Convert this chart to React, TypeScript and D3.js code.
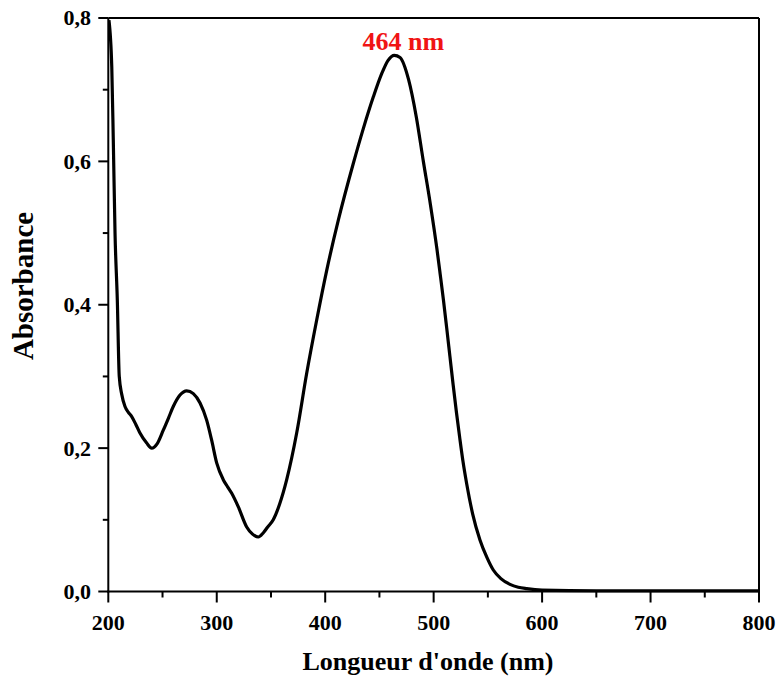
import React from "react";
import * as d3 from "d3";

// UV-Vis absorption spectrum
const wavelengths = [
  200.6, 203.2, 204.6, 206.2, 208.3, 210.1, 212.4, 215.4, 218.5, 221.6, 225.4, 229.2, 235.4, 240,
  245, 250.7, 255.5, 259.9, 266.1, 272.3, 278.4, 284.6, 290.7, 295.3, 300, 306, 310, 313.8, 319.9,
  327.6, 333, 338.3, 343, 347, 352.1, 358, 364.5, 373.7, 382.9, 392.2, 401.4, 412.1, 425.9, 435,
  444.4, 452, 458, 463.7, 469, 476.9, 484, 490.5, 497, 503, 506, 509, 512, 515, 518, 521, 524,
  527, 530.5, 536, 542.7, 549, 555, 562, 570.4, 578, 585.8, 600, 650, 700, 750, 800,
];
const absorbance = [
  0.797, 0.732, 0.63, 0.5, 0.407, 0.3, 0.275, 0.258, 0.25, 0.244, 0.233, 0.221, 0.207, 0.2, 0.206,
  0.225, 0.242, 0.258, 0.274, 0.28, 0.276, 0.263, 0.239, 0.211, 0.179, 0.156, 0.146, 0.137, 0.118,
  0.09, 0.08, 0.076, 0.082, 0.09, 0.1, 0.122, 0.156, 0.221, 0.304, 0.379, 0.448, 0.518, 0.597,
  0.645, 0.69, 0.722, 0.741, 0.748, 0.745, 0.714, 0.662, 0.6, 0.54, 0.478, 0.443, 0.407, 0.368,
  0.328, 0.288, 0.25, 0.215, 0.182, 0.15, 0.108, 0.072, 0.048, 0.03, 0.018, 0.01, 0.006, 0.004,
  0.002, 0.001, 0.001, 0.001, 0.001,
];

const xTicks = [200, 300, 400, 500, 600, 700, 800];
const xMinorTicks = [250, 350, 450, 550, 650, 750];
const yTicks = [0, 0.2, 0.4, 0.6, 0.8];
const yMinorTicks = [0.1, 0.3, 0.5, 0.7];

const peakLabel = "464 nm";
const peakWavelength = 463.7;
const xTitle = "Longueur d'onde (nm)";
const yTitle = "Absorbance";

const W = 777;
const H = 686;
const left = 108.3;
const right = 759;
const top = 18;
const bottom = 591.5;
const font = "'Liberation Serif', 'Times New Roman', serif";

export default function App() {
  const x = d3.scaleLinear().domain([200, 800]).range([left, right]);
  const y = d3.scaleLinear().domain([0, 0.8]).range([bottom, top]);

  const points: [number, number][] = wavelengths.map((w, i) => [w, absorbance[i]]);
  const line = d3
    .line<[number, number]>()
    .x((d) => x(d[0]))
    .y((d) => y(d[1]))
    .curve(d3.curveMonotoneX);

  const fmtY = (v: number) => v.toFixed(1).replace(".", ",");
  const peakA = absorbance[wavelengths.indexOf(peakWavelength)];

  return (
    <svg
      width={W}
      height={H}
      style={{ position: "absolute", left: 0, top: 0, display: "block", background: "#fff" }}
      fontFamily={font}
      fontWeight="bold"
    >
      <defs>
        <clipPath id="plot-clip">
          <rect x={left} y={top - 1} width={right - left} height={bottom - top + 2} />
        </clipPath>
      </defs>

      {/* frame */}
      <line x1={left} x2={right} y1={top} y2={top} stroke="#000" strokeWidth={2} />
      <line x1={right} x2={right} y1={top} y2={bottom} stroke="#000" strokeWidth={2} />

      {/* spectrum */}
      <path
        d={line(points) ?? ""}
        fill="none"
        stroke="#000"
        strokeWidth={3.2}
        strokeLinejoin="round"
        clipPath="url(#plot-clip)"
      />

      {/* axes */}
      <line x1={left} x2={left} y1={top} y2={bottom + 1} stroke="#000" strokeWidth={2} />
      <line x1={left - 1} x2={right + 1} y1={bottom} y2={bottom} stroke="#000" strokeWidth={2} />

      {xTicks.map((t) => (
        <g key={"xt" + t}>
          <line x1={x(t)} x2={x(t)} y1={bottom} y2={bottom + 11} stroke="#000" strokeWidth={2} />
          <text x={x(t)} y={630} textAnchor="middle" fontSize={22}>
            {t}
          </text>
        </g>
      ))}
      {xMinorTicks.map((t) => (
        <line key={"xm" + t} x1={x(t)} x2={x(t)} y1={bottom} y2={bottom + 6} stroke="#000" strokeWidth={2} />
      ))}

      {yTicks.map((t) => (
        <g key={"yt" + t}>
          <line x1={left - 10} x2={left} y1={y(t)} y2={y(t)} stroke="#000" strokeWidth={2} />
          <text x={91} y={y(t)} dy="0.34em" textAnchor="end" fontSize={22}>
            {fmtY(t)}
          </text>
        </g>
      ))}
      {yMinorTicks.map((t) => (
        <line key={"ym" + t} x1={left - 5.5} x2={left} y1={y(t)} y2={y(t)} stroke="#000" strokeWidth={2} />
      ))}

      {/* peak annotation */}
      <text
        x={x(peakWavelength) + 9}
        y={y(peakA) - 5}
        textAnchor="middle"
        fontSize={26}
        fill="#f01414"
      >
        {peakLabel}
      </text>

      {/* axis titles */}
      <text x={428} y={670} textAnchor="middle" fontSize={26}>
        {xTitle}
      </text>
      <text
        transform={`translate(33, ${286}) rotate(-90)`}
        textAnchor="middle"
        fontSize={29}
      >
        {yTitle}
      </text>
    </svg>
  );
}
